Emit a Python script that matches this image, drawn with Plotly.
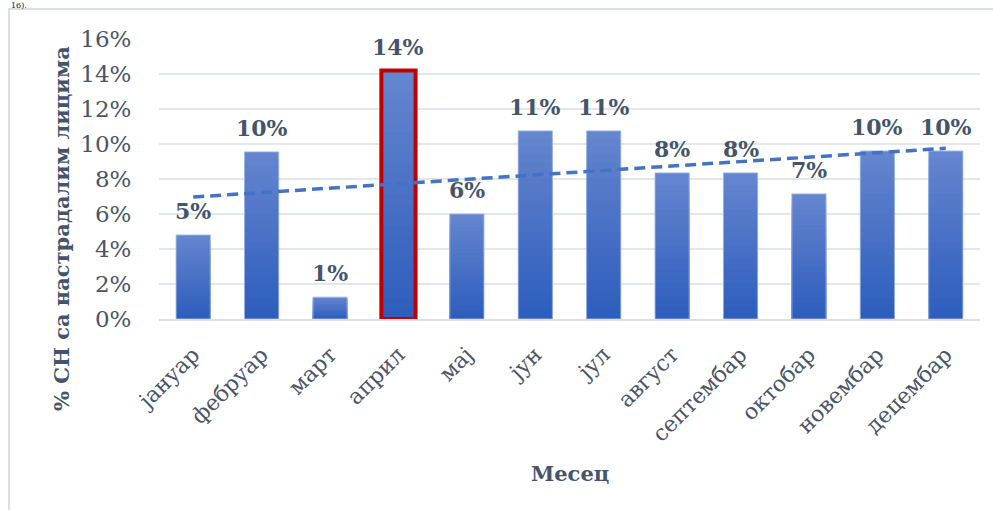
import numpy as np
import plotly.graph_objects as go

months = ["јануар", "фебруар", "март", "април", "мај", "јун", "јул",
          "август", "септембар", "октобар", "новембар", "децембар"]
values = [4.8, 9.55, 1.25, 14.2, 6.0, 10.75, 10.75, 8.35, 8.35, 7.15, 9.6, 9.6]
highlight = "април"
y_ticks = [0, 2, 4, 6, 8, 10, 12, 14, 16]

TOP = np.array([101, 133, 207])
BOT = np.array([46, 94, 189])
N = 24
SERIF = "DejaVu Serif"
SLATE = "#44546A"

fig = go.Figure()
# gradient bars: layered bars from full height (lightest) to shortest (darkest)
for k in range(N):
    frac = (N - k) / N
    c = TOP + (BOT - TOP) * (k / (N - 1))
    fig.add_trace(go.Bar(
        x=months, y=[v * frac for v in values],
        marker=dict(color="rgb(%d,%d,%d)" % tuple(c.astype(int)), line=dict(width=0)),
        showlegend=False, hoverinfo="skip"))

# outline trace (red for highlighted month)
line_colors = ["#C00000" if m == highlight else "rgba(160,185,228,0.9)" for m in months]
line_widths = [4 if m == highlight else 1 for m in months]
fig.add_trace(go.Bar(
    x=months, y=values,
    marker=dict(color="rgba(0,0,0,0)", line=dict(color=line_colors, width=line_widths)),
    showlegend=False, hoverinfo="skip"))

# linear trend line
xi = np.arange(1, len(values) + 1)
slope, icpt = np.polyfit(xi, values, 1)
trend = slope * xi + icpt
fig.add_trace(go.Scatter(
    x=months, y=trend, mode="lines",
    line=dict(color="#4472C4", width=3.5, dash="11px,6px"),
    showlegend=False, hoverinfo="skip"))

annotations = []
for m, v in zip(months, values):
    annotations.append(dict(
        x=m, y=v, xref="x", yref="y", text=f"{round(v)}%", showarrow=False,
        yanchor="bottom", yshift=9,
        font=dict(family=SERIF, size=22, color=SLATE, weight="bold")))

# axis titles
annotations.append(dict(
    x=(570 - 159) / 821, y=(319 - 473) / 280, xref="paper", yref="paper",
    text="Месец", showarrow=False, xanchor="center", yanchor="middle",
    font=dict(family=SERIF, size=21, color=SLATE, weight="bold")))
annotations.append(dict(
    x=(61 - 159) / 821, y=(319 - 229) / 280, xref="paper", yref="paper",
    text="% СН са настрадалим лицима", showarrow=False, textangle=-90,
    xanchor="center", yanchor="middle",
    font=dict(family=SERIF, size=21, color=SLATE, weight="bold")))
# small text at top-left
annotations.append(dict(
    x=(10 - 159) / 821, y=(319 - 0) / 280, xref="paper", yref="paper",
    text="16).", showarrow=False, xanchor="left", yanchor="top",
    borderpad=0, font=dict(family=SERIF, size=8, color="#111111")))

shapes = [dict(
    type="rect", xref="paper", yref="paper",
    x0=(9 - 159) / 821, x1=1.1, y0=-2, y1=(319 - 9) / 280,
    line=dict(color="#DADFE6", width=2), fillcolor="rgba(0,0,0,0)", layer="below")]

fig.update_layout(
    width=993, height=510,
    margin=dict(l=159, r=13, t=39, b=191),
    paper_bgcolor="white", plot_bgcolor="white",
    barmode="overlay", bargap=0.5,
    annotations=annotations, shapes=shapes,
    xaxis=dict(
        type="category", tickangle=-45, showgrid=False,
        showline=True, linecolor="#DADFE6", linewidth=2,
        ticks="outside", ticklen=12, tickcolor="rgba(0,0,0,0)",
        tickfont=dict(family=SERIF, size=22, color="#4A5568")),
    yaxis=dict(
        range=[0, 16], tickvals=y_ticks, ticktext=[f"{t}%" for t in y_ticks],
        showgrid=True, gridcolor="#E3E7EC", gridwidth=1.5, zeroline=False,
        ticks="outside", ticklen=22, tickcolor="rgba(0,0,0,0)",
        tickfont=dict(family=SERIF, size=23, color="#4A5568")),
)

fig.write_html("out.html")
